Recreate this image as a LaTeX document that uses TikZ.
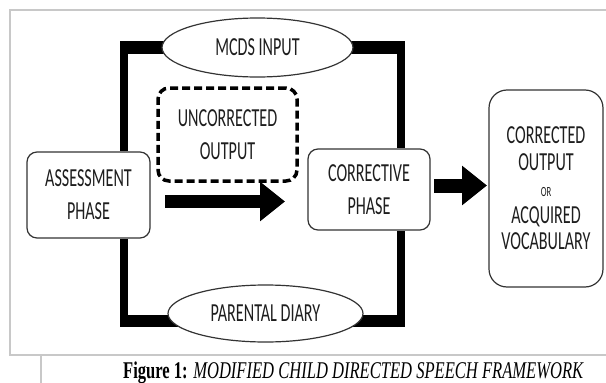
\documentclass[tikz,border=0pt]{standalone}
\usepackage{fontspec}
\setmainfont{Carlito}[FakeStretch=0.62]
\newfontfamily\capfont{Liberation Serif}[FakeStretch=0.69]
\usetikzlibrary{arrows.meta,shapes.geometric,calc}
\pgfdeclarelayer{bg}
\pgfsetlayers{bg,main}
\definecolor{edge}{HTML}{333333}
\definecolor{txt}{HTML}{1E1E1E}
\definecolor{pagegray}{HTML}{C8C8C8}
\tikzset{
  boxnode/.style={draw=edge, line width=1.2pt, fill=white, rounded corners=10pt, inner sep=0pt,
    align=center, text=txt, font=\fontsize{26}{33}\selectfont},
  dashbox/.style={draw=black, line width=3.5pt, dash pattern=on 8pt off 4pt, rounded corners=11pt,
    inner sep=0pt, align=center, text=txt, font=\fontsize{26}{33}\selectfont},
  ellnode/.style={ellipse, draw=edge, line width=1.2pt, fill=white, inner sep=0pt,
    text=txt, font=\fontsize{26}{30}\selectfont},
  vbar/.style={line width=8pt, black, line cap=butt},
  hbar/.style={line width=13pt, black, line cap=butt},
  hbarlow/.style={line width=12pt, black, line cap=butt},
  fatarrow/.style={line width=13pt, black, -{Triangle[length=25pt,width=38pt]}},
  pageline/.style={draw=pagegray, line width=1.5pt},
}
\begin{document}
\begin{tikzpicture}[x=1pt,y=-1pt]
\useasboundingbox (0,0) rectangle (606,383);
% page frame
\coordinate (P1) at (10,10);
\coordinate (P2) at (606,10);
\coordinate (P3) at (10,355);
\coordinate (P4) at (606,355);
\coordinate (P5) at (41,355);
\coordinate (P6) at (41,383);
\draw[pageline] (P2) -- (P1) -- (P3) -- (P4);
\draw[pageline] (P5) -- (P6);
% nodes
\node[boxnode, minimum width=123pt, minimum height=86pt] (assess) at (88.5,195) {ASSESSMENT\\PHASE};
\node[dashbox, minimum width=139pt, minimum height=93pt] (uncor) at (227.5,134.5) {UNCORRECTED\\OUTPUT};
\node[boxnode, minimum width=122pt, minimum height=81pt] (corr) at (369,189.5) {CORRECTIVE\\PHASE};
\node[boxnode, rounded corners=18pt, minimum width=114pt, minimum height=197pt,
  font=\fontsize{26}{26.5}\selectfont] (out) at (546,188.5)
  {CORRECTED\\OUTPUT\\{\fontsize{14}{14}\selectfont OR}\\ACQUIRED\\VOCABULARY};
\node[ellnode, minimum width=191pt, minimum height=59pt] (mcds) at (257.5,47.5) {MCDS INPUT};
\node[ellnode, minimum width=195pt, minimum height=57pt] (diary) at (265.5,313.5) {PARENTAL DIARY};
% frame connectors
\coordinate (TL) at (124,47.5);
\coordinate (TR) at (400.5,47.5);
\coordinate (BL) at (124,321);
\coordinate (BR) at (400.5,321);
\begin{pgfonlayer}{bg}
\draw[vbar] ([yshift=6.5pt]TL) -- (assess.north -| TL);
\draw[hbar] ([xshift=-4pt]TL) -- (mcds.center |- TL);
\draw[hbar] (mcds.center |- TR) -- ([xshift=4pt]TR);
\draw[vbar] ([yshift=6.5pt]TR) -- (corr.north -| TR);
\draw[vbar] (assess.south -| BL) -- ([yshift=-6pt]BL);
\draw[hbarlow] ([xshift=-4pt]BL) -- (diary.center |- BL);
\draw[hbarlow] (diary.center |- BR) -- ([xshift=4pt]BR);
\draw[vbar] ([yshift=-6pt]BR) -- (corr.south -| BR);
\end{pgfonlayer}
% fat arrows
\coordinate (A1s) at (165,201.5);
\coordinate (A1e) at (285,201.5);
\coordinate (A2s) at (434,185.5);
\coordinate (A2e) at (487,185.5);
\draw[fatarrow] (A1s) -- (A1e);
\draw[fatarrow, line width=14pt] (A2s) -- (A2e);
% caption
\node[text=black, inner sep=0pt, anchor=base west, font=\capfont\fontsize{24}{28}\selectfont] (cap) at (123,378)
  {{\bfseries Figure 1:} \itshape MODIFIED CHILD DIRECTED SPEECH FRAMEWORK};
\end{tikzpicture}
\end{document}
